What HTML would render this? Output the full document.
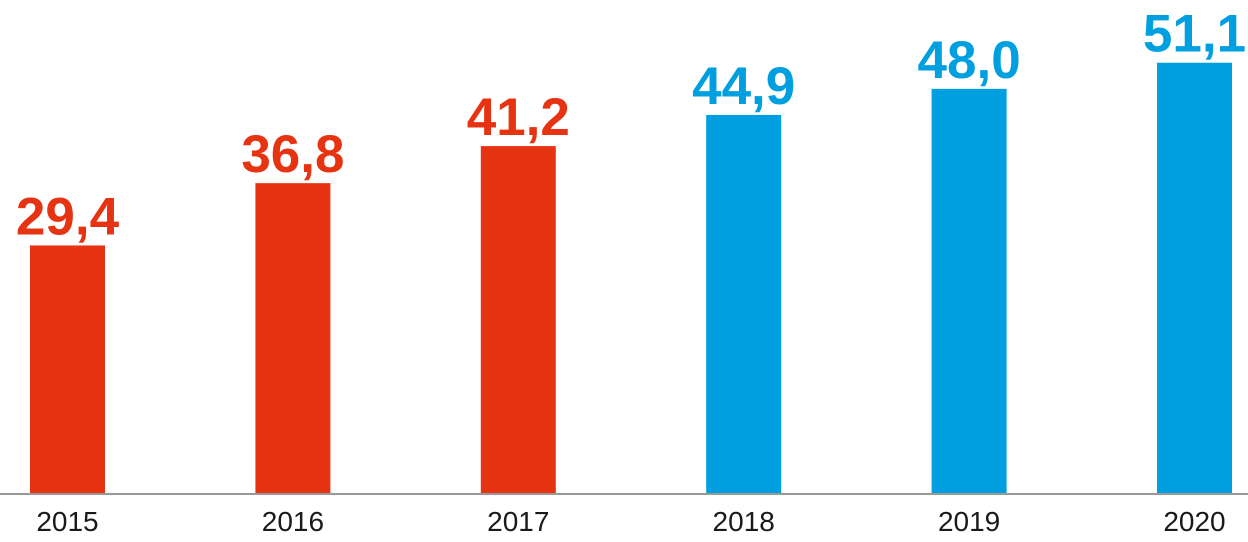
<!DOCTYPE html>
<html><head><meta charset="utf-8">
<style>
html,body{margin:0;padding:0;background:#fff;}
svg{display:block;font-family:"Liberation Sans",Arial,sans-serif;}
</style></head>
<body>
<svg id="chart" width="1248" height="542" viewBox="0 0 1248 542">
<line x1="0" y1="494" x2="1248" y2="494" stroke="#999" stroke-width="2"/>
</svg>
<script>
const categories = ["2015","2016","2017","2018","2019","2020"];
const values = [29.4, 36.8, 41.2, 44.9, 48.0, 51.1];
const valueLabels = ["29,4","36,8","41,2","44,9","48,0","51,1"];
const seriesColors = ["#E63312","#E63312","#E63312","#009FDF","#009FDF","#009FDF"];

const svg = document.getElementById('chart');
const NS = 'http://www.w3.org/2000/svg';
const baseY = 493;
const pxPerUnit = 8.42;
const firstCenter = 67.5, step = 225.4, barW = 75;
function xScale(i){ return firstCenter + i * step; }
function yScale(v){ return baseY - v * pxPerUnit; }

categories.forEach((cat, i) => {
  const cx = xScale(i);
  const top = yScale(values[i]);
  const r = document.createElementNS(NS, 'rect');
  r.setAttribute('x', cx - barW/2);
  r.setAttribute('y', top);
  r.setAttribute('width', barW);
  r.setAttribute('height', baseY - top);
  r.setAttribute('fill', seriesColors[i]);
  
  
  svg.appendChild(r);

  const t = document.createElementNS(NS, 'text');
  t.setAttribute('x', cx);
  t.setAttribute('y', top - 11);
  t.setAttribute('text-anchor', 'middle');
  t.setAttribute('font-size', '53');
  t.setAttribute('font-weight', 'bold');
  t.setAttribute('fill', seriesColors[i]);
  t.textContent = valueLabels[i];
  
  
  svg.appendChild(t);

  const xl = document.createElementNS(NS, 'text');
  xl.setAttribute('x', cx);
  xl.setAttribute('y', 531);
  xl.setAttribute('text-anchor', 'middle');
  xl.setAttribute('font-size', '28');
  xl.setAttribute('fill', '#1a1a1a');
  xl.textContent = cat;
  
  
  svg.appendChild(xl);
});
</script>
</body></html>
